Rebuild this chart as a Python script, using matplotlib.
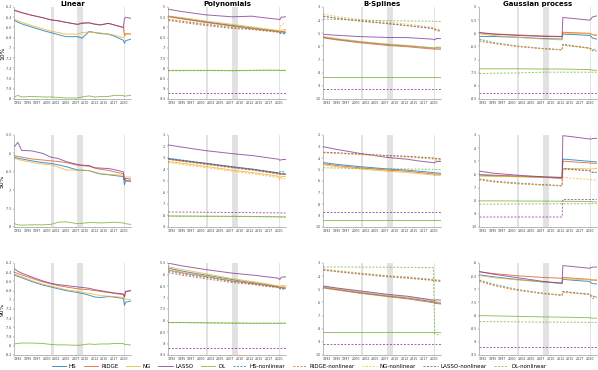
import matplotlib
matplotlib.use("Agg")
import matplotlib.pyplot as plt
import numpy as np

# --- labels ---
methods = ["Linear", "Polynomials", "B-Splines", "Gaussian process"]
quantiles = ["10%", "50%", "90%"]
series_names = ["HS", "RIDGE", "NG", "LASSO", "DL",
                "HS-nonlinear", "RIDGE-nonlinear", "NG-nonlinear",
                "LASSO-nonlinear", "DL-nonlinear"]
colors = ["#0072BD", "#D95319", "#EDB120", "#7E2F8E", "#77AC30"]

# ticks every 2.5 years, labelled by year
tick_pos = [1992.5, 1995, 1997.5, 2000, 2002.5, 2005, 2007.5, 2010, 2012.5, 2015, 2017.5, 2020]
tick_lbl = ["1992", "1995", "1997", "2000", "2002", "2005", "2007", "2010", "2012", "2015", "2017", "2020"]
recessions = [(2001.17, 2001.87), (2007.92, 2009.42), (2020.08, 2020.35)]

# --- time points (decimal years) ---
t_lin = [1991.6, 1992.5, 1993.5, 1996, 1999, 2001, 2003, 2005, 2008, 2009.2,
         2011, 2012.5, 2014, 2016, 2017.5, 2019.9, 2020.2, 2020.5, 2021.8]
t_nl = [1991.6, 1995, 2001, 2008, 2012.9, 2013.1, 2016, 2019.9, 2020.3, 2020.7, 2021.8]

# --- Linear column: HS, RIDGE, NG, LASSO, DL ---
lin_10 = [
    [-6.46, -6.50, -6.53, -6.59, -6.66, -6.70, -6.74, -6.78, -6.78, -6.81, -6.68, -6.70, -6.72, -6.73, -6.77, -6.85, -6.91, -6.86, -6.83],
    [-6.26, -6.28, -6.31, -6.36, -6.41, -6.45, -6.47, -6.50, -6.54, -6.51, -6.51, -6.53, -6.55, -6.52, -6.55, -6.60, -6.76, -6.72, -6.73],
    [-6.44, -6.47, -6.50, -6.56, -6.63, -6.67, -6.70, -6.73, -6.73, -6.70, -6.69, -6.70, -6.71, -6.73, -6.75, -6.80, -6.78, -6.74, -6.72],
    [-6.27, -6.29, -6.31, -6.36, -6.41, -6.45, -6.47, -6.50, -6.54, -6.52, -6.51, -6.54, -6.55, -6.52, -6.55, -6.60, -6.43, -6.40, -6.42],
    [-7.96, -7.93, -7.96, -7.95, -7.96, -7.96, -7.97, -7.98, -7.98, -7.96, -7.94, -7.96, -7.95, -7.95, -7.93, -7.93, -7.95, -7.94, -7.93],
]
lin_50 = [
    [-6.10, -6.13, -6.15, -6.20, -6.25, -6.27, -6.31, -6.36, -6.45, -6.46, -6.47, -6.52, -6.56, -6.58, -6.60, -6.63, -6.85, -6.75, -6.76],
    [-6.06, -6.08, -6.10, -6.15, -6.18, -6.20, -6.22, -6.25, -6.32, -6.33, -6.35, -6.40, -6.43, -6.46, -6.50, -6.55, -6.70, -6.73, -6.75],
    [-6.14, -6.16, -6.19, -6.24, -6.29, -6.31, -6.37, -6.45, -6.46, -6.45, -6.47, -6.51, -6.55, -6.57, -6.58, -6.59, -6.68, -6.64, -6.64],
    [-5.82, -5.70, -5.92, -5.93, -6.00, -6.10, -6.14, -6.22, -6.30, -6.32, -6.33, -6.39, -6.40, -6.41, -6.44, -6.50, -6.73, -6.68, -6.70],
    [-7.91, -7.94, -7.95, -7.94, -7.94, -7.93, -7.87, -7.86, -7.91, -7.90, -7.88, -7.88, -7.89, -7.88, -7.87, -7.89, -7.90, -7.91, -7.93],
]
lin_90 = [
    [-6.46, -6.49, -6.52, -6.60, -6.68, -6.72, -6.76, -6.80, -6.84, -6.86, -6.90, -6.94, -6.95, -6.93, -6.94, -6.97, -7.12, -7.05, -7.03],
    [-6.40, -6.43, -6.46, -6.53, -6.61, -6.65, -6.69, -6.72, -6.76, -6.77, -6.78, -6.80, -6.82, -6.84, -6.86, -6.89, -6.95, -6.82, -6.80],
    [-6.44, -6.47, -6.50, -6.58, -6.66, -6.70, -6.74, -6.78, -6.82, -6.84, -6.86, -6.88, -6.91, -6.92, -6.93, -6.95, -7.00, -6.98, -7.00],
    [-6.33, -6.38, -6.42, -6.50, -6.59, -6.64, -6.67, -6.69, -6.72, -6.73, -6.75, -6.78, -6.80, -6.83, -6.85, -6.87, -6.93, -6.82, -6.80],
    [-7.96, -7.95, -7.94, -7.94, -7.95, -7.97, -7.98, -7.98, -7.99, -7.98, -7.96, -7.97, -7.96, -7.96, -7.95, -7.95, -7.97, -7.97, -7.98],
]

# --- Polynomials: HS, RIDGE, NG, LASSO, DL, then the nonlinear five ---
poly_10 = [
    [-5.45, -5.55, -5.72, -5.90, -6.02, -6.02, -6.10, -6.18, -6.20, -6.22, -6.25],
    [-5.48, -5.58, -5.75, -5.93, -6.05, -6.05, -6.12, -6.20, -6.25, -6.20, -6.18],
    [-5.44, -5.52, -5.68, -5.85, -5.97, -5.97, -6.05, -6.15, -6.20, -6.12, -6.10],
    [-5.11, -5.22, -5.38, -5.48, -5.45, -5.45, -5.52, -5.60, -5.62, -5.50, -5.48],
    [-8.10, -8.10, -8.10, -8.11, -8.10, -8.10, -8.09, -8.09, -8.10, -8.10, -8.10],
    [-5.62, -5.70, -5.85, -6.00, -6.07, -6.07, -6.13, -6.20, -6.25, -6.28, -6.30],
    [-5.66, -5.75, -5.90, -6.05, -6.10, -6.10, -6.16, -6.24, -6.28, -6.30, -6.32],
    [-5.60, -5.68, -5.82, -5.97, -6.03, -6.03, -6.10, -6.18, -6.10, -5.85, -5.80],
    [-9.22, -9.22, -9.22, -9.22, -9.22, -9.22, -9.22, -9.22, -9.22, -9.22, -9.22],
    [-8.12, -8.12, -8.11, -8.12, -8.11, -8.11, -8.10, -8.10, -8.11, -8.11, -8.11],
]
poly_50 = [
    [-3.05, -3.20, -3.45, -3.75, -3.95, -3.95, -4.10, -4.30, -4.32, -4.35, -4.38],
    [-3.10, -3.25, -3.50, -3.80, -4.00, -4.00, -4.15, -4.35, -4.42, -4.40, -4.42],
    [-3.30, -3.45, -3.72, -4.05, -4.25, -4.25, -4.40, -4.58, -4.75, -4.60, -4.62],
    [-1.87, -2.05, -2.35, -2.62, -2.78, -2.78, -2.92, -3.10, -3.20, -3.15, -3.12],
    [-8.04, -8.05, -8.06, -8.07, -8.08, -8.08, -8.10, -8.11, -8.12, -8.12, -8.13],
    [-3.02, -3.18, -3.45, -3.78, -3.98, -3.98, -4.12, -4.30, -4.20, -4.15, -4.25],
    [-3.12, -3.28, -3.55, -3.85, -4.05, -4.05, -4.20, -4.40, -4.45, -4.40, -4.45],
    [-3.40, -3.55, -3.82, -4.15, -4.35, -4.35, -4.50, -4.70, -4.90, -4.75, -4.80],
    [-7.69, -7.70, -7.72, -7.74, -7.75, -7.75, -7.76, -7.77, -7.78, -7.78, -7.78],
    [-8.05, -8.06, -8.07, -8.08, -8.09, -8.09, -8.10, -8.12, -8.12, -8.13, -8.13],
]
poly_90 = [
    [-5.72, -5.85, -6.02, -6.22, -6.35, -6.35, -6.42, -6.52, -6.55, -6.58, -6.60],
    [-5.80, -5.92, -6.08, -6.28, -6.38, -6.38, -6.45, -6.55, -6.58, -6.55, -6.55],
    [-5.66, -5.78, -5.96, -6.18, -6.30, -6.30, -6.38, -6.50, -6.52, -6.48, -6.50],
    [-5.51, -5.62, -5.78, -5.94, -6.02, -6.02, -6.08, -6.16, -6.22, -6.12, -6.10],
    [-8.09, -8.09, -8.10, -8.11, -8.12, -8.12, -8.12, -8.12, -8.12, -8.12, -8.12],
    [-5.85, -5.97, -6.12, -6.30, -6.40, -6.40, -6.47, -6.55, -6.60, -6.62, -6.62],
    [-5.92, -6.03, -6.18, -6.35, -6.43, -6.43, -6.50, -6.58, -6.62, -6.62, -6.64],
    [-5.75, -5.88, -6.05, -6.25, -6.35, -6.35, -6.42, -6.52, -6.55, -6.52, -6.55],
    [-9.20, -9.20, -9.20, -9.20, -9.20, -9.20, -9.20, -9.20, -9.20, -9.20, -9.20],
    [-8.09, -8.09, -8.10, -8.12, -8.12, -8.12, -8.12, -8.12, -8.12, -8.12, -8.12],
]

# --- B-Splines ---
bs_10 = [
    [-5.30, -5.45, -5.65, -5.85, -5.95, -5.95, -6.02, -6.12, -6.13, -6.10, -6.12],
    [-5.35, -5.50, -5.72, -5.92, -6.02, -6.02, -6.10, -6.20, -6.22, -6.20, -6.22],
    [-5.25, -5.40, -5.62, -5.82, -5.92, -5.92, -6.00, -6.10, -6.12, -6.05, -6.05],
    [-5.08, -5.15, -5.25, -5.32, -5.33, -5.33, -5.38, -5.45, -5.50, -5.40, -5.40],
    [-8.30, -8.30, -8.30, -8.30, -8.30, -8.30, -8.30, -8.30, -8.30, -8.30, -8.30],
    [-3.70, -3.85, -4.05, -4.25, -4.40, -4.40, -4.50, -4.62, -4.68, -4.75, -4.78],
    [-3.72, -3.87, -4.07, -4.27, -4.42, -4.42, -4.52, -4.65, -4.72, -4.80, -4.85],
    [-3.55, -3.72, -3.95, -4.15, -4.30, -4.30, -4.40, -4.55, -4.60, -4.68, -4.72],
    [-9.22, -9.22, -9.22, -9.22, -9.22, -9.22, -9.22, -9.22, -9.22, -9.22, -9.22],
    [-3.93, -3.96, -4.00, -4.04, -4.06, -4.06, -4.07, -4.08, -4.09, -4.10, -4.10],
]
bs_50 = [
    [-4.40, -4.55, -4.75, -4.95, -5.05, -5.05, -5.15, -5.26, -5.30, -5.30, -5.32],
    [-4.50, -4.65, -4.85, -5.05, -5.15, -5.15, -5.25, -5.38, -5.42, -5.40, -5.42],
    [-4.60, -4.75, -4.95, -5.15, -5.25, -5.25, -5.35, -5.48, -5.52, -5.50, -5.50],
    [-3.02, -3.25, -3.60, -3.95, -4.10, -4.10, -4.25, -4.40, -4.42, -4.30, -4.30],
    [-9.36, -9.36, -9.36, -9.36, -9.36, -9.36, -9.36, -9.36, -9.36, -9.36, -9.36],
    [-3.50, -3.55, -3.65, -3.78, -3.85, -3.85, -3.92, -4.00, -4.02, -4.05, -4.08],
    [-3.52, -3.57, -3.68, -3.80, -3.87, -3.87, -3.93, -4.02, -4.05, -4.08, -4.10],
    [-3.55, -3.60, -3.72, -3.85, -3.93, -3.93, -4.00, -4.10, -4.15, -4.18, -4.20],
    [-8.69, -8.69, -8.69, -8.69, -8.69, -8.69, -8.69, -8.69, -8.69, -8.69, -8.69],
    [-4.85, -4.87, -4.90, -4.93, -4.95, -4.95, -4.97, -4.99, -5.00, -5.00, -5.00],
]
bs_90 = [
    [-4.85, -5.00, -5.25, -5.50, -5.65, -5.65, -5.78, -5.95, -6.00, -6.02, -6.05],
    [-4.90, -5.05, -5.30, -5.55, -5.72, -5.72, -5.85, -6.02, -6.07, -6.08, -6.12],
    [-4.80, -4.95, -5.18, -5.45, -5.60, -5.60, -5.72, -5.88, -5.92, -5.95, -5.98],
    [-4.75, -4.90, -5.12, -5.38, -5.52, -5.52, -5.65, -5.82, -5.85, -5.80, -5.82],
    [-8.25, -8.25, -8.25, -8.25, -8.25, -8.25, -8.25, -8.25, -8.25, -8.25, -8.25],
    [-3.50, -3.62, -3.80, -4.00, -4.10, -4.10, -4.18, -4.28, -4.30, -4.32, -4.35],
    [-3.55, -3.67, -3.85, -4.05, -4.15, -4.15, -4.23, -4.33, -4.36, -4.38, -4.40],
    [-3.45, -3.58, -3.76, -3.95, -4.05, -4.05, -4.13, -4.23, -4.26, -4.28, -4.30],
    [-9.20, -9.20, -9.20, -9.20, -9.20, -9.20, -9.20, -9.20, -9.20, -9.20, -9.20],
    [-3.30, -3.30, -3.31, -3.32, -3.33, -3.33, -3.34, -3.35, -8.40, -8.45, -8.45],
]

# --- Gaussian process ---
gp_10 = [
    [-6.12, -6.12, -6.15, -6.20, -6.22, -6.03, -6.05, -6.08, -6.10, -6.18, -6.22],
    [-5.97, -6.02, -6.06, -6.10, -6.12, -5.96, -5.98, -6.00, -6.02, -6.05, -6.08],
    [-6.02, -6.08, -6.15, -6.22, -6.25, -6.00, -6.00, -6.03, -6.02, -6.05, -6.06],
    [-5.98, -6.03, -6.08, -6.12, -6.13, -5.40, -5.44, -5.50, -5.47, -5.38, -5.34],
    [-7.35, -7.35, -7.35, -7.36, -7.36, -7.36, -7.37, -7.38, -7.39, -7.40, -7.41],
    [-6.22, -6.35, -6.48, -6.58, -6.62, -6.42, -6.48, -6.56, -6.58, -6.66, -6.68],
    [-6.30, -6.38, -6.50, -6.59, -6.64, -6.44, -6.50, -6.57, -6.60, -6.62, -6.64],
    [-6.28, -6.37, -6.49, -6.58, -6.63, -6.46, -6.50, -6.56, -6.58, -6.60, -6.62],
    [-8.29, -8.29, -8.29, -8.29, -8.29, -8.29, -8.29, -8.29, -8.29, -8.29, -8.29],
    [-7.53, -7.52, -7.51, -7.48, -7.48, -7.48, -7.48, -7.48, -7.48, -7.48, -7.48],
]
gp_50 = [
    [-6.05, -6.10, -6.15, -6.20, -6.22, -4.83, -4.90, -5.00, -5.02, -5.03, -5.04],
    [-6.00, -6.05, -6.12, -6.22, -6.31, -4.99, -5.05, -5.12, -5.15, -5.15, -5.16],
    [-6.13, -6.15, -6.18, -6.21, -6.23, -5.55, -5.55, -5.58, -5.60, -5.58, -5.55],
    [-5.75, -5.90, -6.05, -6.18, -6.26, -3.05, -3.15, -3.30, -3.31, -3.27, -3.25],
    [-8.01, -8.01, -8.02, -8.03, -8.04, -8.04, -8.05, -8.06, -8.07, -8.08, -8.09],
    [-6.35, -6.50, -6.65, -6.78, -6.85, -5.55, -5.62, -5.70, -5.75, -5.85, -5.85],
    [-6.40, -6.55, -6.70, -6.80, -6.87, -5.60, -5.65, -5.72, -5.78, -5.82, -5.84],
    [-6.40, -6.55, -6.70, -6.82, -6.88, -6.23, -6.30, -6.38, -6.40, -6.42, -6.44],
    [-9.24, -9.24, -9.24, -9.24, -9.24, -7.91, -7.91, -7.91, -7.91, -7.91, -7.91],
    [-8.27, -8.26, -8.25, -8.24, -8.23, -8.23, -8.23, -8.22, -8.22, -8.22, -8.22],
]
gp_90 = [
    [-6.45, -6.52, -6.62, -6.72, -6.77, -6.62, -6.66, -6.70, -6.74, -6.78, -6.80],
    [-6.33, -6.40, -6.48, -6.55, -6.58, -6.55, -6.58, -6.62, -6.64, -6.65, -6.66],
    [-6.48, -6.55, -6.64, -6.72, -6.77, -6.60, -6.62, -6.64, -6.66, -6.64, -6.62],
    [-6.33, -6.42, -6.55, -6.70, -6.77, -6.10, -6.14, -6.20, -6.18, -6.16, -6.15],
    [-8.00, -8.01, -8.03, -8.05, -8.06, -8.06, -8.07, -8.08, -8.09, -8.10, -8.10],
    [-6.65, -6.80, -7.00, -7.15, -7.22, -7.08, -7.13, -7.18, -7.22, -7.26, -7.30],
    [-6.70, -6.85, -7.03, -7.17, -7.23, -7.10, -7.14, -7.20, -7.26, -7.35, -7.30],
    [-6.68, -6.83, -7.02, -7.16, -7.23, -7.12, -7.15, -7.20, -7.22, -7.25, -7.28],
    [-9.20, -9.20, -9.20, -9.20, -9.20, -9.20, -9.20, -9.20, -9.20, -9.20, -9.20],
    [-8.23, -8.23, -8.24, -8.25, -8.25, -8.25, -8.25, -8.26, -8.26, -8.26, -8.26],
]

panels = [[lin_10, poly_10, bs_10, gp_10],
          [lin_50, poly_50, bs_50, gp_50],
          [lin_90, poly_90, bs_90, gp_90]]

# y tick ranges (bottom, top, step) per panel
yticks_spec = [[(-8.0, -6.2, 0.2), (-9.5, -5.0, 0.5), (-10, -3, 1), (-8.5, -5.0, 0.5)],
               [(-8.0, -5.5, 0.5), (-9, -1, 1), (-10, -2, 1), (-10, -3, 1)],
               [(-8.2, -6.2, 0.2), (-9.5, -5.5, 0.5), (-10, -3, 1), (-9.5, -6.0, 0.5)]]

# --- figure ---
W, H = 598, 370
fig = plt.figure(figsize=(W / 100, H / 100), dpi=100)
col_left = [14, 168, 323, 479]
row_top = [7, 135, 263]
ax_w, ax_h = 118, 92

dash = (0, (2.0, 1.6))
handles = []
for r in range(3):
    for c in range(4):
        w = ax_w - 1 if c == 0 else ax_w
        ax = fig.add_axes([col_left[c] / W, 1 - (row_top[r] + ax_h) / H, w / W, ax_h / H])
        for a, b in recessions:
            ax.axvspan(a, b, color="#e2e2e2", lw=0, zorder=0)
        data = panels[r][c]
        t = t_lin if c == 0 else t_nl
        for i, vals in enumerate(data):
            ls = "-" if i < 5 else dash
            ln, = ax.plot(t, vals, color=colors[i % 5], ls=ls, lw=0.7, alpha=0.75,
                          label=series_names[i])
            if r == 0 and c == 1:
                handles.append(ln)
        lo, hi, step = yticks_spec[r][c]
        ticks = np.round(np.arange(lo, hi + step / 2, step), 2)
        ax.set_yticks(ticks)
        ax.set_yticklabels([f"{v:g}" for v in ticks])
        ax.set_ylim(lo, hi)
        ax.set_xlim(1991.5, 2021.9)
        ax.set_xticks(tick_pos)
        ax.set_xticklabels(tick_lbl)
        ax.tick_params(labelsize=2.3, length=1.0, width=0.3, pad=0.6,
                       colors="#444444")
        for s in ["top", "right"]:
            ax.spines[s].set_visible(False)
        for s in ["left", "bottom"]:
            ax.spines[s].set_linewidth(0.4)
            ax.spines[s].set_color("#888888")
        if r == 0:
            ax.set_title(methods[c], fontsize=5, fontweight="bold", pad=0.5)
        if c == 0:
            fig.text(2.5 / W, 1 - (row_top[r] + ax_h / 2) / H, quantiles[r],
                     rotation=90, fontsize=4.3, ha="center", va="center")

fig.legend(handles=handles, labels=series_names, loc="center", ncol=10,
           bbox_to_anchor=(0.5, 1 - 366 / H), frameon=False, fontsize=4,
           handlelength=2.6, columnspacing=1.3, handletextpad=0.5)

fig.savefig("out.png", dpi=100)
